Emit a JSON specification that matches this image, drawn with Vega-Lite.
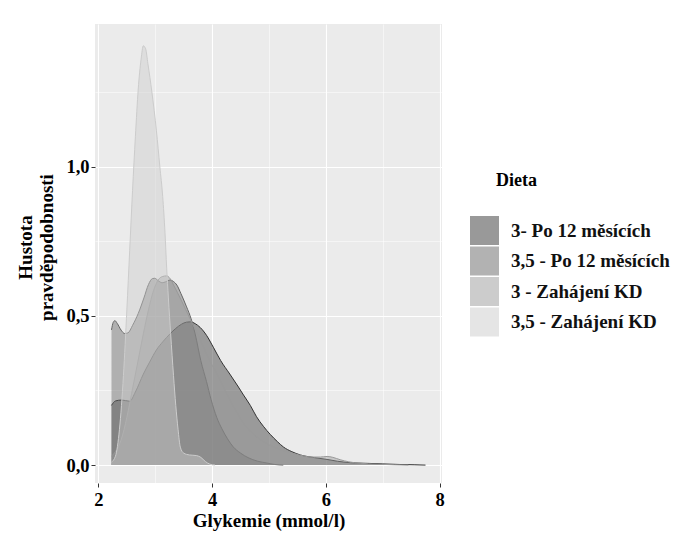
{
  "$schema": "https://vega.github.io/schema/vega-lite/v6.json",
  "width": 347,
  "height": 459,
  "autosize": {"type": "none"},
  "padding": {"left": 95, "top": 24, "right": 239, "bottom": 54},
  "background": "white",
  "config": {
    "view": {"fill": "#EBEBEB", "stroke": null},
    "font": "Liberation Serif"
  },
  "datasets": {
    "hustoty": [
      {"dieta": "3- Po 12 měsících", "glykemie": 2.23, "hustota": 0.2},
      {"dieta": "3- Po 12 měsících", "glykemie": 2.3, "hustota": 0.215},
      {"dieta": "3- Po 12 měsících", "glykemie": 2.41, "hustota": 0.218},
      {"dieta": "3- Po 12 měsících", "glykemie": 2.55, "hustota": 0.214},
      {"dieta": "3- Po 12 měsících", "glykemie": 2.65, "hustota": 0.245},
      {"dieta": "3- Po 12 měsících", "glykemie": 2.79, "hustota": 0.305},
      {"dieta": "3- Po 12 měsících", "glykemie": 2.9, "hustota": 0.345},
      {"dieta": "3- Po 12 měsících", "glykemie": 3.02, "hustota": 0.386},
      {"dieta": "3- Po 12 měsících", "glykemie": 3.14, "hustota": 0.415},
      {"dieta": "3- Po 12 měsících", "glykemie": 3.26, "hustota": 0.44},
      {"dieta": "3- Po 12 měsících", "glykemie": 3.36, "hustota": 0.458},
      {"dieta": "3- Po 12 měsících", "glykemie": 3.46, "hustota": 0.472},
      {"dieta": "3- Po 12 měsících", "glykemie": 3.55, "hustota": 0.479},
      {"dieta": "3- Po 12 měsících", "glykemie": 3.62, "hustota": 0.48},
      {"dieta": "3- Po 12 měsících", "glykemie": 3.7, "hustota": 0.474},
      {"dieta": "3- Po 12 měsících", "glykemie": 3.79, "hustota": 0.461},
      {"dieta": "3- Po 12 měsících", "glykemie": 3.9, "hustota": 0.435},
      {"dieta": "3- Po 12 měsících", "glykemie": 4.02, "hustota": 0.395},
      {"dieta": "3- Po 12 měsících", "glykemie": 4.15, "hustota": 0.35},
      {"dieta": "3- Po 12 měsících", "glykemie": 4.31, "hustota": 0.305},
      {"dieta": "3- Po 12 měsících", "glykemie": 4.45, "hustota": 0.265},
      {"dieta": "3- Po 12 měsících", "glykemie": 4.55, "hustota": 0.235},
      {"dieta": "3- Po 12 měsících", "glykemie": 4.67, "hustota": 0.2},
      {"dieta": "3- Po 12 měsících", "glykemie": 4.78, "hustota": 0.162},
      {"dieta": "3- Po 12 měsících", "glykemie": 4.9, "hustota": 0.13},
      {"dieta": "3- Po 12 měsících", "glykemie": 5.02, "hustota": 0.103},
      {"dieta": "3- Po 12 měsících", "glykemie": 5.15, "hustota": 0.078},
      {"dieta": "3- Po 12 měsících", "glykemie": 5.25, "hustota": 0.061},
      {"dieta": "3- Po 12 měsících", "glykemie": 5.4, "hustota": 0.045},
      {"dieta": "3- Po 12 měsících", "glykemie": 5.55, "hustota": 0.034},
      {"dieta": "3- Po 12 měsících", "glykemie": 5.8, "hustota": 0.025},
      {"dieta": "3- Po 12 měsících", "glykemie": 6.02, "hustota": 0.019},
      {"dieta": "3- Po 12 měsících", "glykemie": 6.2, "hustota": 0.013},
      {"dieta": "3- Po 12 měsících", "glykemie": 6.43, "hustota": 0.008},
      {"dieta": "3- Po 12 měsících", "glykemie": 6.7, "hustota": 0.006},
      {"dieta": "3- Po 12 měsících", "glykemie": 7.0, "hustota": 0.004},
      {"dieta": "3- Po 12 měsících", "glykemie": 7.3, "hustota": 0.002},
      {"dieta": "3- Po 12 měsících", "glykemie": 7.55, "hustota": 0.001},
      {"dieta": "3- Po 12 měsících", "glykemie": 7.75, "hustota": 0.0},

      {"dieta": "3,5 - Po 12 měsících", "glykemie": 2.23, "hustota": 0.453},
      {"dieta": "3,5 - Po 12 měsících", "glykemie": 2.26, "hustota": 0.478},
      {"dieta": "3,5 - Po 12 měsících", "glykemie": 2.29, "hustota": 0.484},
      {"dieta": "3,5 - Po 12 měsících", "glykemie": 2.33, "hustota": 0.475},
      {"dieta": "3,5 - Po 12 měsících", "glykemie": 2.4, "hustota": 0.452},
      {"dieta": "3,5 - Po 12 měsících", "glykemie": 2.46, "hustota": 0.441},
      {"dieta": "3,5 - Po 12 měsících", "glykemie": 2.52, "hustota": 0.443},
      {"dieta": "3,5 - Po 12 měsících", "glykemie": 2.6, "hustota": 0.468},
      {"dieta": "3,5 - Po 12 měsících", "glykemie": 2.7, "hustota": 0.508},
      {"dieta": "3,5 - Po 12 měsících", "glykemie": 2.8, "hustota": 0.56},
      {"dieta": "3,5 - Po 12 měsících", "glykemie": 2.88, "hustota": 0.605},
      {"dieta": "3,5 - Po 12 měsících", "glykemie": 2.95, "hustota": 0.625},
      {"dieta": "3,5 - Po 12 měsících", "glykemie": 2.99, "hustota": 0.626},
      {"dieta": "3,5 - Po 12 měsících", "glykemie": 3.05, "hustota": 0.618},
      {"dieta": "3,5 - Po 12 měsících", "glykemie": 3.12, "hustota": 0.611},
      {"dieta": "3,5 - Po 12 měsících", "glykemie": 3.18, "hustota": 0.614},
      {"dieta": "3,5 - Po 12 měsících", "glykemie": 3.26, "hustota": 0.62},
      {"dieta": "3,5 - Po 12 měsících", "glykemie": 3.32, "hustota": 0.615},
      {"dieta": "3,5 - Po 12 měsících", "glykemie": 3.38, "hustota": 0.603},
      {"dieta": "3,5 - Po 12 měsících", "glykemie": 3.45, "hustota": 0.575},
      {"dieta": "3,5 - Po 12 měsících", "glykemie": 3.55, "hustota": 0.53},
      {"dieta": "3,5 - Po 12 měsících", "glykemie": 3.63, "hustota": 0.49},
      {"dieta": "3,5 - Po 12 měsících", "glykemie": 3.7, "hustota": 0.44},
      {"dieta": "3,5 - Po 12 měsících", "glykemie": 3.8, "hustota": 0.35},
      {"dieta": "3,5 - Po 12 měsících", "glykemie": 3.9, "hustota": 0.28},
      {"dieta": "3,5 - Po 12 měsících", "glykemie": 3.98, "hustota": 0.22},
      {"dieta": "3,5 - Po 12 měsících", "glykemie": 4.08, "hustota": 0.16},
      {"dieta": "3,5 - Po 12 měsících", "glykemie": 4.17, "hustota": 0.122},
      {"dieta": "3,5 - Po 12 měsících", "glykemie": 4.27, "hustota": 0.088},
      {"dieta": "3,5 - Po 12 měsících", "glykemie": 4.37, "hustota": 0.061},
      {"dieta": "3,5 - Po 12 měsících", "glykemie": 4.5, "hustota": 0.04},
      {"dieta": "3,5 - Po 12 měsících", "glykemie": 4.63, "hustota": 0.025},
      {"dieta": "3,5 - Po 12 měsících", "glykemie": 4.8, "hustota": 0.013},
      {"dieta": "3,5 - Po 12 měsících", "glykemie": 4.96, "hustota": 0.007},
      {"dieta": "3,5 - Po 12 měsících", "glykemie": 5.1, "hustota": 0.002},
      {"dieta": "3,5 - Po 12 měsících", "glykemie": 5.25, "hustota": 0.0},

      {"dieta": "3 - Zahájení KD", "glykemie": 2.23, "hustota": 0.03},
      {"dieta": "3 - Zahájení KD", "glykemie": 2.3, "hustota": 0.045},
      {"dieta": "3 - Zahájení KD", "glykemie": 2.4, "hustota": 0.085},
      {"dieta": "3 - Zahájení KD", "glykemie": 2.5, "hustota": 0.16},
      {"dieta": "3 - Zahájení KD", "glykemie": 2.55, "hustota": 0.207},
      {"dieta": "3 - Zahájení KD", "glykemie": 2.62, "hustota": 0.275},
      {"dieta": "3 - Zahájení KD", "glykemie": 2.7, "hustota": 0.352},
      {"dieta": "3 - Zahájení KD", "glykemie": 2.79, "hustota": 0.44},
      {"dieta": "3 - Zahájení KD", "glykemie": 2.88, "hustota": 0.52},
      {"dieta": "3 - Zahájení KD", "glykemie": 2.97, "hustota": 0.585},
      {"dieta": "3 - Zahájení KD", "glykemie": 3.05, "hustota": 0.62},
      {"dieta": "3 - Zahájení KD", "glykemie": 3.13, "hustota": 0.632},
      {"dieta": "3 - Zahájení KD", "glykemie": 3.2, "hustota": 0.634},
      {"dieta": "3 - Zahájení KD", "glykemie": 3.26, "hustota": 0.625},
      {"dieta": "3 - Zahájení KD", "glykemie": 3.33, "hustota": 0.6},
      {"dieta": "3 - Zahájení KD", "glykemie": 3.45, "hustota": 0.555},
      {"dieta": "3 - Zahájení KD", "glykemie": 3.6, "hustota": 0.495},
      {"dieta": "3 - Zahájení KD", "glykemie": 3.7, "hustota": 0.455},
      {"dieta": "3 - Zahájení KD", "glykemie": 3.79, "hustota": 0.42},
      {"dieta": "3 - Zahájení KD", "glykemie": 3.93, "hustota": 0.36},
      {"dieta": "3 - Zahájení KD", "glykemie": 4.08, "hustota": 0.307},
      {"dieta": "3 - Zahájení KD", "glykemie": 4.2, "hustota": 0.26},
      {"dieta": "3 - Zahájení KD", "glykemie": 4.31, "hustota": 0.218},
      {"dieta": "3 - Zahájení KD", "glykemie": 4.43, "hustota": 0.178},
      {"dieta": "3 - Zahájení KD", "glykemie": 4.55, "hustota": 0.14},
      {"dieta": "3 - Zahájení KD", "glykemie": 4.66, "hustota": 0.115},
      {"dieta": "3 - Zahájení KD", "glykemie": 4.78, "hustota": 0.095},
      {"dieta": "3 - Zahájení KD", "glykemie": 4.93, "hustota": 0.075},
      {"dieta": "3 - Zahájení KD", "glykemie": 5.08, "hustota": 0.061},
      {"dieta": "3 - Zahájení KD", "glykemie": 5.25, "hustota": 0.049},
      {"dieta": "3 - Zahájení KD", "glykemie": 5.43, "hustota": 0.039},
      {"dieta": "3 - Zahájení KD", "glykemie": 5.6, "hustota": 0.031},
      {"dieta": "3 - Zahájení KD", "glykemie": 5.75, "hustota": 0.027},
      {"dieta": "3 - Zahájení KD", "glykemie": 5.9, "hustota": 0.027},
      {"dieta": "3 - Zahájení KD", "glykemie": 6.02, "hustota": 0.029},
      {"dieta": "3 - Zahájení KD", "glykemie": 6.12, "hustota": 0.026},
      {"dieta": "3 - Zahájení KD", "glykemie": 6.25, "hustota": 0.018},
      {"dieta": "3 - Zahájení KD", "glykemie": 6.4, "hustota": 0.011},
      {"dieta": "3 - Zahájení KD", "glykemie": 6.6, "hustota": 0.006},
      {"dieta": "3 - Zahájení KD", "glykemie": 6.9, "hustota": 0.003},
      {"dieta": "3 - Zahájení KD", "glykemie": 7.2, "hustota": 0.001},
      {"dieta": "3 - Zahájení KD", "glykemie": 7.45, "hustota": 0.0},

      {"dieta": "3,5 - Zahájení KD", "glykemie": 2.23, "hustota": 0.01},
      {"dieta": "3,5 - Zahájení KD", "glykemie": 2.3, "hustota": 0.03},
      {"dieta": "3,5 - Zahájení KD", "glykemie": 2.37, "hustota": 0.12},
      {"dieta": "3,5 - Zahájení KD", "glykemie": 2.44, "hustota": 0.3},
      {"dieta": "3,5 - Zahájení KD", "glykemie": 2.5, "hustota": 0.52},
      {"dieta": "3,5 - Zahájení KD", "glykemie": 2.55, "hustota": 0.72},
      {"dieta": "3,5 - Zahájení KD", "glykemie": 2.6, "hustota": 0.92},
      {"dieta": "3,5 - Zahájení KD", "glykemie": 2.65, "hustota": 1.1},
      {"dieta": "3,5 - Zahájení KD", "glykemie": 2.7, "hustota": 1.26},
      {"dieta": "3,5 - Zahájení KD", "glykemie": 2.75, "hustota": 1.36},
      {"dieta": "3,5 - Zahájení KD", "glykemie": 2.79, "hustota": 1.405},
      {"dieta": "3,5 - Zahájení KD", "glykemie": 2.83, "hustota": 1.395},
      {"dieta": "3,5 - Zahájení KD", "glykemie": 2.87, "hustota": 1.345},
      {"dieta": "3,5 - Zahájení KD", "glykemie": 2.94, "hustota": 1.25},
      {"dieta": "3,5 - Zahájení KD", "glykemie": 3.02, "hustota": 1.12},
      {"dieta": "3,5 - Zahájení KD", "glykemie": 3.08, "hustota": 1.0},
      {"dieta": "3,5 - Zahájení KD", "glykemie": 3.13, "hustota": 0.9},
      {"dieta": "3,5 - Zahájení KD", "glykemie": 3.17, "hustota": 0.78},
      {"dieta": "3,5 - Zahájení KD", "glykemie": 3.2, "hustota": 0.66},
      {"dieta": "3,5 - Zahájení KD", "glykemie": 3.23, "hustota": 0.56},
      {"dieta": "3,5 - Zahájení KD", "glykemie": 3.27, "hustota": 0.44},
      {"dieta": "3,5 - Zahájení KD", "glykemie": 3.32, "hustota": 0.3},
      {"dieta": "3,5 - Zahájení KD", "glykemie": 3.36, "hustota": 0.2},
      {"dieta": "3,5 - Zahájení KD", "glykemie": 3.4, "hustota": 0.12},
      {"dieta": "3,5 - Zahájení KD", "glykemie": 3.44, "hustota": 0.06},
      {"dieta": "3,5 - Zahájení KD", "glykemie": 3.5, "hustota": 0.04},
      {"dieta": "3,5 - Zahájení KD", "glykemie": 3.6, "hustota": 0.034},
      {"dieta": "3,5 - Zahájení KD", "glykemie": 3.72, "hustota": 0.032},
      {"dieta": "3,5 - Zahájení KD", "glykemie": 3.8, "hustota": 0.026},
      {"dieta": "3,5 - Zahájení KD", "glykemie": 3.88, "hustota": 0.012},
      {"dieta": "3,5 - Zahájení KD", "glykemie": 3.96, "hustota": 0.003},
      {"dieta": "3,5 - Zahájení KD", "glykemie": 4.05, "hustota": 0.0}
    ]
  },
  "data": {"name": "hustoty"},
  "encoding": {
    "x": {
      "field": "glykemie",
      "type": "quantitative",
      "scale": {"domain": [1.94, 8.04], "nice": false, "zero": false},
      "axis": {
        "title": "Glykemie (mmol/l)",
        "values": [2, 3, 4, 5, 6, 7, 8],
        "labelExpr": "datum.value % 2 === 0 ? datum.label : ''",
        "grid": true,
        "gridColor": "#ffffff",
        "gridWidth": {"condition": {"test": "datum.value % 2 === 0", "value": 1.1}, "value": 0.5},
        "tickOpacity": {"condition": {"test": "datum.value % 2 === 0", "value": 1}, "value": 0},
        "domain": false,
        "tickColor": "#333333",
        "tickSize": 4,
        "tickWidth": 1,
        "labelPadding": 3,
        "labelFont": "Liberation Serif",
        "labelFontSize": 18.5,
        "labelFontWeight": "bold",
        "labelColor": "#000000",
        "labelFlush": false,
        "labelOverlap": false,
        "titleFont": "Liberation Serif",
        "titleFontSize": 19,
        "titleFontWeight": "bold",
        "titleColor": "#000000",
        "titlePadding": 3
      }
    },
    "y": {
      "field": "hustota",
      "type": "quantitative",
      "stack": null,
      "scale": {"domain": [-0.06, 1.478], "nice": false, "zero": false},
      "axis": {
        "title": ["Hustota", "pravděpodobnosti"],
        "values": [0, 0.25, 0.5, 0.75, 1, 1.25],
        "labelExpr": "(datum.value * 4) % 2 === 0 ? replace(format(datum.value, '.1f'), '.', ',') : ''",
        "grid": true,
        "gridColor": "#ffffff",
        "gridWidth": {"condition": {"test": "(datum.value * 4) % 2 === 0", "value": 1.1}, "value": 0.5},
        "tickOpacity": {"condition": {"test": "(datum.value * 4) % 2 === 0", "value": 1}, "value": 0},
        "domain": false,
        "tickColor": "#333333",
        "tickSize": 4,
        "tickWidth": 1,
        "labelPadding": 2,
        "labelFont": "Liberation Serif",
        "labelFontSize": 18.5,
        "labelFontWeight": "bold",
        "labelColor": "#000000",
        "labelFlush": false,
        "labelOverlap": false,
        "titleFont": "Liberation Serif",
        "titleFontSize": 19,
        "titleFontWeight": "bold",
        "titleColor": "#000000",
        "titleAngle": 270,
        "titleBaseline": "bottom",
        "titleAlign": "center",
        "titleLineHeight": 21,
        "titleX": -60,
        "titleY": 223
      }
    },
    "color": {
      "field": "dieta",
      "type": "nominal",
      "scale": {
        "domain": ["3- Po 12 měsících", "3,5 - Po 12 měsících", "3 - Zahájení KD", "3,5 - Zahájení KD"],
        "range": ["#333333", "#666666", "#999999", "#cccccc"]
      },
      "legend": {
        "title": "Dieta",
        "orient": "none",
        "legendX": 375,
        "legendY": 148,
        "padding": 0,
        "symbolType": "square",
        "symbolSize": 841,
        "symbolStrokeWidth": 0,
        "symbolOpacity": 0.5,
        "labelFont": "Liberation Serif",
        "labelFontWeight": "bold",
        "labelFontSize": 19,
        "labelColor": "#111111",
        "labelOffset": 12,
        "labelLimit": 300,
        "titleFont": "Liberation Serif",
        "titleFontWeight": "bold",
        "titleFontSize": 18,
        "titleColor": "#000000",
        "titlePadding": 26,
        "rowPadding": 1.5,
        "encode": {"title": {"update": {"dx": {"value": 26}}}}
      }
    }
  },
  "layer": [
    {"transform": [{"filter": {"field": "dieta", "equal": "3- Po 12 měsících"}}], "mark": {"type": "area", "interpolate": "monotone", "fillOpacity": 0.445}},
    {"transform": [{"filter": {"field": "dieta", "equal": "3- Po 12 měsících"}}], "mark": {"type": "line", "interpolate": "monotone", "strokeWidth": 1}},
    {"transform": [{"filter": {"field": "dieta", "equal": "3,5 - Po 12 měsících"}}], "mark": {"type": "area", "interpolate": "monotone", "fillOpacity": 0.445}},
    {"transform": [{"filter": {"field": "dieta", "equal": "3,5 - Po 12 měsících"}}], "mark": {"type": "line", "interpolate": "monotone", "strokeWidth": 1}},
    {"transform": [{"filter": {"field": "dieta", "equal": "3 - Zahájení KD"}}], "mark": {"type": "area", "interpolate": "monotone", "fillOpacity": 0.445}},
    {"transform": [{"filter": {"field": "dieta", "equal": "3 - Zahájení KD"}}], "mark": {"type": "line", "interpolate": "monotone", "strokeWidth": 1}},
    {"transform": [{"filter": {"field": "dieta", "equal": "3,5 - Zahájení KD"}}], "mark": {"type": "area", "interpolate": "monotone", "fillOpacity": 0.445}},
    {"transform": [{"filter": {"field": "dieta", "equal": "3,5 - Zahájení KD"}}], "mark": {"type": "line", "interpolate": "monotone", "strokeWidth": 1}}
  ]
}
